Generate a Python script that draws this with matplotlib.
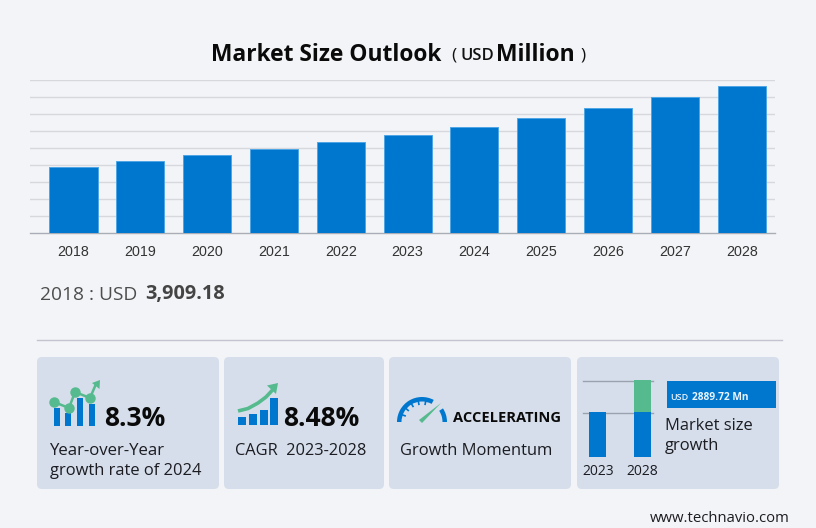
import numpy as np
import matplotlib
matplotlib.use('Agg')
import matplotlib.pyplot as plt
from matplotlib.patches import FancyBboxPatch, Rectangle, Wedge, Polygon

W = 816
H = 528

years = ['2018', '2019', '2020', '2021', '2022', '2023', '2024', '2025', '2026', '2027', '2028']
market_size = [3909.18, 4247, 4576, 4953, 5341, 5780, 6260, 6776, 7365, 7988, 8670]
grid_values = [1000, 2000, 3000, 4000, 5000, 6000, 7000, 8000, 9000]

mini_years = ['2023', '2028']
mini_base = [5780, 5780]
mini_growth = [0, 2889.72]

BG = '#f3f4f7'
CARD = '#d5deea'
BLUE = '#0077cf'
EDGE = '#4fa6e6'
GREEN = '#55bb8e'
UI = 'Open Sans'


def px_axes(left, top, right, bottom):
    a = fig.add_axes([left / W, 1 - bottom / H, (right - left) / W, (bottom - top) / H])
    a.patch.set_alpha(0)
    return a


fig = plt.figure(figsize=(W / 100, H / 100), dpi=100, facecolor=BG)

# page layer in pixel coordinates
bg = fig.add_axes([0, 0, 1, 1])
bg.set_xlim(0, W)
bg.set_ylim(H, 0)
bg.axis('off')

# main chart
ax = px_axes(30, 80, 775, 233)
x = np.arange(len(years))
ax.bar(x, market_size, width=0.72, color=BLUE, edgecolor=EDGE, linewidth=0.7, zorder=3)
ax.set_xlim(-0.651, 10.498)
ax.set_ylim(0, 9000)
ax.set_yticks(grid_values)
ax.set_yticklabels([])
ax.set_xticks(x)
ax.set_xticklabels(years, fontfamily='Liberation Sans', fontsize=10.3, color='#333333')
ax.tick_params(axis='both', length=0)
ax.tick_params(axis='x', pad=8.5)
ax.grid(axis='y', color='#d6d8de', linewidth=1, zorder=0)
for s in ['top', 'left', 'right']:
    ax.spines[s].set_visible(False)
ax.spines['bottom'].set_color('#a9adb5')
ax.spines['bottom'].set_linewidth(1)

# title
bg.text(211, 52, 'Market Size Outlook', fontfamily=UI, fontweight='bold', fontsize=16.35,
        color='#0a0a0a', va='center_baseline')
bg.text(451, 53, '(', fontfamily=UI, fontsize=12.5, color='#111111', va='center_baseline')
bg.text(460, 54, 'USD', fontfamily=UI, fontweight='semibold', fontsize=12, color='#111111', va='center_baseline')
bg.text(496, 52, 'Million', fontfamily=UI, fontweight='bold', fontsize=16.5, color='#0a0a0a', va='center_baseline')
bg.text(580, 53, ')', fontfamily=UI, fontsize=12.5, color='#111111', va='center_baseline')

# first year value
bg.text(40, 293, '2018 : USD', fontfamily=UI, fontsize=13.8, color='#4d4d4d', va='center_baseline')
bg.text(145, 292, '3,909.18', fontfamily=UI, fontweight='bold', fontsize=14.3, color='#444444', va='center_baseline')

bg.plot([37, 782], [340, 340], color='#c3c4d0', lw=1)

# cards
for left, right in [(37, 219), (224, 384), (389, 571), (577, 779)]:
    bg.add_patch(FancyBboxPatch((left, 357), right - left, 132,
                                boxstyle='round,pad=0,rounding_size=5', fc=CARD, ec='none'))

# card 1 icon
for l, r, t in [(54, 60, 407.5), (65, 71, 413), (77, 82.5, 397.5), (88.5, 94.5, 404)]:
    bg.add_patch(Rectangle((l, t), r - l, 426 - t, fc=BLUE, ec='none'))
bg.plot([54, 69, 75, 90, 96], [402, 408, 392, 398, 384], color=GREEN, lw=1.8, marker='o',
        markevery=[0, 1, 2, 3], ms=6.5, solid_capstyle='round')
bg.add_patch(Polygon([[92, 383], [100, 380], [99.5, 389]], fc=GREEN, ec='none'))

bg.text(104, 416, '8.3%', fontfamily=UI, fontweight='bold', fontsize=19, color='#0a0a0a', va='center_baseline')
bg.text(50, 449, 'Year-over-Year', fontfamily=UI, fontsize=12.1, color='#1c1c22', va='center_baseline')
bg.text(50, 469, 'growth rate of 2024', fontfamily=UI, fontsize=11.85, color='#1c1c22', va='center_baseline')

# card 2 icon
for l, t in [(238, 417), (248.5, 414), (259.5, 409.5), (269.5, 398)]:
    bg.add_patch(Rectangle((l, t), 8, 425 - t, fc=BLUE, ec='none'))
bg.plot([238, 248, 258, 266, 273], [411, 408.5, 403, 397, 389.5], color=GREEN, lw=2.6, solid_capstyle='butt')
bg.add_patch(Polygon([[267, 385.5], [278, 383], [276, 394]], fc=GREEN, ec='none'))

bg.text(283, 416, '8.48%', fontfamily=UI, fontweight='bold', fontsize=19, color='#0a0a0a', va='center_baseline')
bg.text(235, 449, 'CAGR  2023-2028', fontfamily=UI, fontsize=11.75, color='#1c1c22', va='center_baseline')

# card 3 gauge
bg.add_patch(Wedge((422, 422), 25, -180, -62, width=4.5, fc=BLUE, ec='none'))
bg.add_patch(Wedge((422, 422), 25, -33, 0, width=4.5, fc=BLUE, ec='none'))
for ang in np.radians([-160, -140, -120, -100, -80]):
    bg.plot([422 + 20.5 * np.cos(ang), 422 + 18 * np.cos(ang)],
            [422 + 20.5 * np.sin(ang), 422 + 18 * np.sin(ang)], color=BLUE, lw=1.2)
bg.add_patch(Polygon([[419, 420], [422, 423], [441, 403]], fc=GREEN, ec='none'))

bg.text(453, 417, 'ACCELERATING', fontfamily=UI, fontweight='bold', fontsize=10.5, color='#0a0a0a', va='center_baseline')
bg.text(400, 449, 'Growth Momentum', fontfamily=UI, fontsize=11.85, color='#1c1c22', va='center_baseline')

# card 4 mini chart
bg.plot([583, 653], [380.5, 380.5], color='#9aa3ad', lw=1)
bg.plot([583, 653], [412.5, 412.5], color='#9aa3ad', lw=1)
mini = px_axes(578, 380, 662, 456.5)
mx = np.arange(len(mini_years))
mini.bar(mx, np.array(mini_base) - 1817, bottom=1817, width=0.378, color=BLUE, zorder=3)
mini.bar(mx, mini_growth, bottom=mini_base, width=0.378, color=GREEN, zorder=3)
mini.set_xlim(-0.44, 1.43)
mini.set_ylim(1817, 8669.72)
mini.set_yticks([])
mini.set_xticks(mx)
mini.set_xticklabels(mini_years, fontfamily=UI, fontsize=10, color='#1c1c22')
mini.tick_params(axis='x', length=0, pad=5.5)
for s in mini.spines.values():
    s.set_visible(False)

bg.add_patch(Rectangle((667, 381), 109, 27, fc=BLUE, ec='none'))
bg.text(670, 396.5, 'USD', fontfamily=UI, fontweight='semibold', fontsize=6.5, color='#eaf4fc', va='center_baseline')
bg.text(692, 396, '2889.72 Mn', fontfamily=UI, fontweight='bold', fontsize=7.3, color='#eaf4fc', va='center_baseline')
bg.text(665, 424.5, 'Market size', fontfamily=UI, fontsize=11.85, color='#1c1c22', va='center_baseline')
bg.text(665, 444.5, 'growth', fontfamily=UI, fontsize=11.85, color='#1c1c22', va='center_baseline')

bg.text(650, 517, 'www.technavio.com', fontfamily=UI, fontsize=10.7, color='#1c1c22', va='center_baseline')

fig.savefig('out.png', dpi=100, facecolor=BG)
